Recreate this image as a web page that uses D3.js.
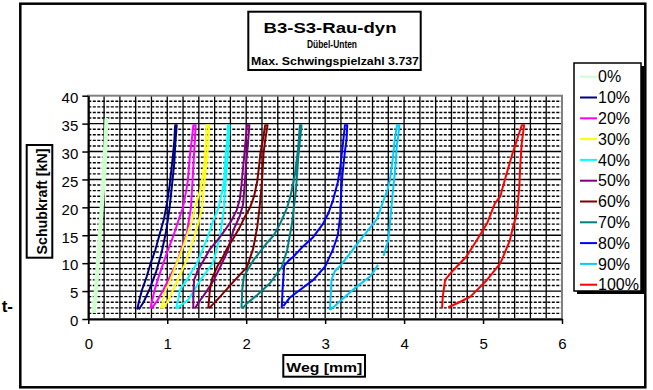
<!DOCTYPE html>
<html><head><meta charset="utf-8">
<script src="https://cdn.jsdelivr.net/npm/d3@7"></script>
<style>body{margin:0;background:#fff;} svg{display:block;font-family:"Liberation Sans",Arial,sans-serif;}</style>
</head><body><svg id="c" width="653" height="390"></svg>
<script>
// ---- data ----
const seriesNames = ["0%","10%","20%","30%","40%","50%","60%","70%","80%","90%","100%"];
const seriesColors = ["#ccffcc","#000080","#ff00ff","#ffff00","#00ffff","#800080","#800000","#008080","#0000ff","#00ccff","#ff0000"];
// each loop: loading branch up, then unloading branch down [Weg mm, Schubkraft kN]
const s0 = [[0.06,1.1],[0.08,4],[0.10,8],[0.12,12],[0.14,16],[0.16,20],[0.18,24],[0.19,28],[0.21,32],[0.22,35.8],
            [0.24,35.8],[0.23,32],[0.22,28],[0.20,24],[0.18,20],[0.16,16],[0.14,12],[0.12,8],[0.10,4],[0.08,1.1]];
const s10 = [[0.62,1.7],[0.64,3],[0.68,5.2],[0.74,7.6],[0.79,10],[0.85,12.4],[0.90,15],[0.96,18],[1.0,21],[1.03,24],[1.05,26.5],[1.07,29],[1.09,32],[1.10,34.7],
             [1.12,34.7],[1.10,31],[1.09,28],[1.06,24],[1.03,20],[0.99,16],[0.93,12],[0.86,8.5],[0.78,5.5],[0.70,3],[0.64,1.7]];
const s20 = [[0.79,1.9],[0.80,2.8],[0.84,5.2],[0.89,7.5],[0.95,10],[1.02,12.8],[1.08,15],[1.15,18],[1.20,20],[1.24,23],[1.26,24.7],[1.29,29.7],[1.31,32],[1.33,34.7],
             [1.36,34.7],[1.35,32],[1.34,29.7],[1.32,24.7],[1.30,20],[1.25,15.5],[1.18,12.5],[1.12,10],[1.03,7.5],[0.95,5.2],[0.87,3.2],[0.80,1.9]];
const s30 = [[0.92,1.9],[0.94,3],[0.96,4.5],[1.04,7],[1.12,10],[1.19,12.5],[1.25,15],[1.31,17.5],[1.35,20],[1.42,23.1],[1.45,25.7],[1.47,28],[1.48,29.7],[1.50,34.7],
             [1.53,34.7],[1.52,32],[1.51,29.7],[1.48,25.7],[1.46,23.1],[1.44,20],[1.40,17.5],[1.35,15],[1.29,12.5],[1.23,10],[1.12,6.6],[1.0,3.0],[0.94,1.9]];
const s40 = [[1.11,1.9],[1.14,3.5],[1.16,5.2],[1.25,7.0],[1.31,8.5],[1.38,10],[1.45,12.5],[1.52,15],[1.58,17.5],[1.65,20],[1.70,23.1],[1.72,24.7],[1.74,29.7],[1.76,32],[1.77,34.7],
             [1.79,34.7],[1.77,29.7],[1.74,24.7],[1.73,23.1],[1.72,20],[1.67,15],[1.58,10],[1.42,7.0],[1.27,3.5],[1.12,1.9]];
const s50 = [[1.33,1.9],[1.33,4],[1.34,7],[1.38,8.5],[1.46,10.5],[1.54,12.5],[1.63,14],[1.71,15.5],[1.80,17.3],[1.88,19.5],[1.92,21.5],[1.94,24],[1.96,27],[1.98,30],[2.01,34.7],
             [2.04,34.7],[2.02,31],[2.0,28],[1.98,24],[1.96,20.5],[1.92,18.5],[1.84,16],[1.76,12],[1.66,9],[1.59,7],[1.50,5],[1.42,3.4],[1.35,1.9]];
const s60 = [[1.52,1.9],[1.54,5.2],[1.57,7.3],[1.63,9.3],[1.70,11],[1.76,12.7],[1.84,14.5],[1.92,16.5],[1.99,18.5],[2.05,20],[2.10,22],[2.14,24.7],[2.16,27],[2.18,29.7],[2.21,32],[2.24,34.7],
             [2.27,34.7],[2.24,32],[2.22,29.7],[2.20,24.7],[2.19,23.1],[2.17,20],[2.14,16.5],[2.09,12.7],[2.01,9.3],[1.86,7.0],[1.67,4.0],[1.53,1.9]];
const s70 = [[1.94,1.9],[1.95,5.2],[1.97,7.6],[2.09,10.5],[2.26,13.6],[2.35,15],[2.43,17.1],[2.52,20],[2.56,22],[2.62,26.1],[2.66,30.9],[2.68,34.7],
             [2.70,34.7],[2.66,29.1],[2.63,23.1],[2.58,17.1],[2.52,12.4],[2.45,9.3],[2.30,6.4],[2.14,4.3],[2.01,2.8],[1.95,1.9]];
const s80 = [[2.45,1.9],[2.46,5],[2.48,9.5],[2.54,10.5],[2.60,11.2],[2.72,13],[2.85,14.7],[2.97,17],[3.04,18.9],[3.10,21.3],[3.16,24.5],[3.19,27],[3.21,29.5],[3.23,32],[3.25,34.7],
             [3.28,34.7],[3.27,32],[3.25,30],[3.22,26],[3.20,22],[3.19,18.3],[3.16,15],[3.10,12.5],[3.0,9.4],[2.85,7.0],[2.68,5.2],[2.55,3.8],[2.47,2.3]];
const s90 = [[3.06,1.6],[3.07,4],[3.08,7.0],[3.12,8.5],[3.19,9.5],[3.30,11.5],[3.44,14.1],[3.55,16],[3.66,18],[3.74,21.3],[3.79,23.1],[3.82,24.9],[3.86,29.1],[3.88,32],[3.91,34.7],
             [3.94,34.7],[3.92,32],[3.91,31.5],[3.89,27.3],[3.86,23.1],[3.82,17.1],[3.80,14.1],[3.74,11.3],null,[3.67,9.7],[3.57,7.6],[3.40,5.8],[3.23,3.7],[3.11,2.2],[3.06,1.6]];
const s100 = [[4.48,1.9],[4.49,4.0],[4.52,7.0],[4.62,8.7],[4.79,11.2],[4.92,14.1],[5.05,17.1],[5.15,20.7],[5.22,22.0],[5.24,23.1],[5.30,26.1],[5.37,29.5],[5.43,32.1],[5.49,34.7],
              [5.52,34.7],[5.49,31.5],[5.47,27.3],[5.46,23.8],[5.43,19.0],[5.38,16.5],[5.34,14.1],[5.22,10.0],[5.05,7.0],[4.84,4.0],[4.70,3.0],[4.56,2.1]];
const seriesData = [s0,s10,s20,s30,s40,s50,s60,s70,s80,s90,s100];
const xTickValues = [0,1,2,3,4,5,6];
const yTickValues = [0,5,10,15,20,25,30,35,40];
const titleLines = ["B3-S3-Rau-dyn","Dübel-Unten","Max. Schwingspielzahl 3.737"];
const xTitle = "Weg [mm]";
const yTitle = "Schubkraft [kN]";

// ---- drawing ----
const svg = d3.select("#c");
const x = d3.scaleLinear().domain([0,6]).range([88.3,562]);
const y = d3.scaleLinear().domain([0,40]).range([319,95.7]);

svg.append("rect").attr("width",653).attr("height",390).attr("fill","#fff");

// stray label fragment at left
svg.append("text").attr("x",13).attr("y",311.5).attr("text-anchor","end")
  .attr("font-weight","bold").attr("font-size",17).text("t-");

// outer chart border
svg.append("rect").attr("x",20.3).attr("y",3.7).attr("width",625).attr("height",383.6)
  .attr("fill","none").attr("stroke","#000").attr("stroke-width",2.5);

const grid = svg.append("g");
// vertical gridlines every 0.2 mm
grid.selectAll("line.v").data(d3.range(1,30).map(i=>i*0.2)).join("line")
  .attr("x1",d=>x(d)).attr("x2",d=>x(d)).attr("y1",y(40)).attr("y2",y(0))
  .attr("stroke","#000").attr("stroke-width",1.3);
// horizontal gridlines every 1 kN
grid.selectAll("line.h").data(d3.range(1,40)).join("line")
  .attr("x1",x(0)).attr("x2",x(6)).attr("y1",d=>y(d)).attr("y2",d=>y(d))
  .attr("stroke","#000").attr("stroke-width",1.4)
  .attr("stroke-dasharray",d=>d%5===0?null:"3,1.5");

// plot area border (gray)
svg.append("rect").attr("x",x(0)).attr("y",y(40)).attr("width",x(6)-x(0)).attr("height",y(0)-y(40))
  .attr("fill","none").attr("stroke","#808080").attr("stroke-width",2);

// series
const line = d3.line().defined(d=>d!=null).x(d=>x(d[0])).y(d=>y(d[1]));
svg.append("g").selectAll("path").data(seriesData).join("path")
  .attr("d",line).attr("fill","none")
  .attr("stroke",(d,i)=>seriesColors[i]).attr("stroke-width",(d,i)=>i===0?2.5:2)
  .attr("stroke-linejoin","round");

// axes
const ya = svg.append("g").attr("transform",`translate(${x(0)},0)`)
  .call(d3.axisLeft(y).tickValues(yTickValues).tickFormat(d3.format("d")).tickSize(6).tickSizeOuter(0).tickPadding(4));
const xa = svg.append("g").attr("transform",`translate(0,${y(0)})`)
  .call(d3.axisBottom(x).tickValues(xTickValues).tickFormat(d3.format("d")).tickSize(5).tickSizeOuter(0).tickPadding(14));
[ya,xa].forEach(a=>{
  a.select(".domain").attr("stroke","#000").attr("stroke-width",2);
  a.selectAll(".tick line").attr("stroke","#000").attr("stroke-width",1.5);
  a.selectAll("text").attr("font-size",15).attr("font-family","'Liberation Sans',Arial,sans-serif").attr("fill","#000");
});
ya.selectAll("text").attr("dy","0.45em");

// title box
svg.append("rect").attr("x",248.3).attr("y",11.7).attr("width",172.4).attr("height",58.3)
  .attr("fill","#fff").attr("stroke","#000").attr("stroke-width",2);
const tl = [{t:titleLines[0],cx:330,by:33.3,fs:15,w:133},
            {t:titleLines[1],cx:332,by:48,fs:10.5,w:50},
            {t:titleLines[2],cx:335,by:65,fs:10.5,w:168}];
svg.append("g").selectAll("text").data(tl).join("text")
  .attr("x",d=>d.cx).attr("y",d=>d.by).attr("text-anchor","middle")
  .attr("font-weight","bold").attr("font-size",d=>d.fs)
  .attr("textLength",d=>d.w).attr("lengthAdjust","spacingAndGlyphs").text(d=>d.t);

// y axis title
svg.append("rect").attr("x",26.7).attr("y",145).attr("width",25.6).attr("height",112.7)
  .attr("fill","#fff").attr("stroke","#000").attr("stroke-width",2);
svg.append("text").attr("transform","translate(46.5,201.5) rotate(-90)")
  .attr("text-anchor","middle").attr("font-weight","bold").attr("font-size",14)
  .attr("textLength",106).attr("lengthAdjust","spacingAndGlyphs").text(yTitle);

// x axis title
svg.append("rect").attr("x",283.3).attr("y",355).attr("width",81.7).attr("height",21.7)
  .attr("fill","#fff").attr("stroke","#000").attr("stroke-width",2);
svg.append("text").attr("x",324.3).attr("y",371.7).attr("text-anchor","middle")
  .attr("font-weight","bold").attr("font-size",13)
  .attr("textLength",76).attr("lengthAdjust","spacingAndGlyphs").text(xTitle);

// legend
svg.append("rect").attr("x",577).attr("y",66).attr("width",67).attr("height",228).attr("fill","#000");
svg.append("rect").attr("x",574).attr("y",63).attr("width",67).attr("height",228)
  .attr("fill","#fff").attr("stroke","#000").attr("stroke-width",1.5);
const lg = svg.append("g").selectAll("g").data(seriesNames).join("g")
  .attr("transform",(d,i)=>`translate(0,${76.7+i*20.8})`);
lg.append("line").attr("x1",580).attr("x2",597).attr("stroke",(d,i)=>seriesColors[i]).attr("stroke-width",2);
lg.append("text").attr("x",598).attr("dy","0.36em").attr("font-size",16).text(d=>d);
</script></body></html>
